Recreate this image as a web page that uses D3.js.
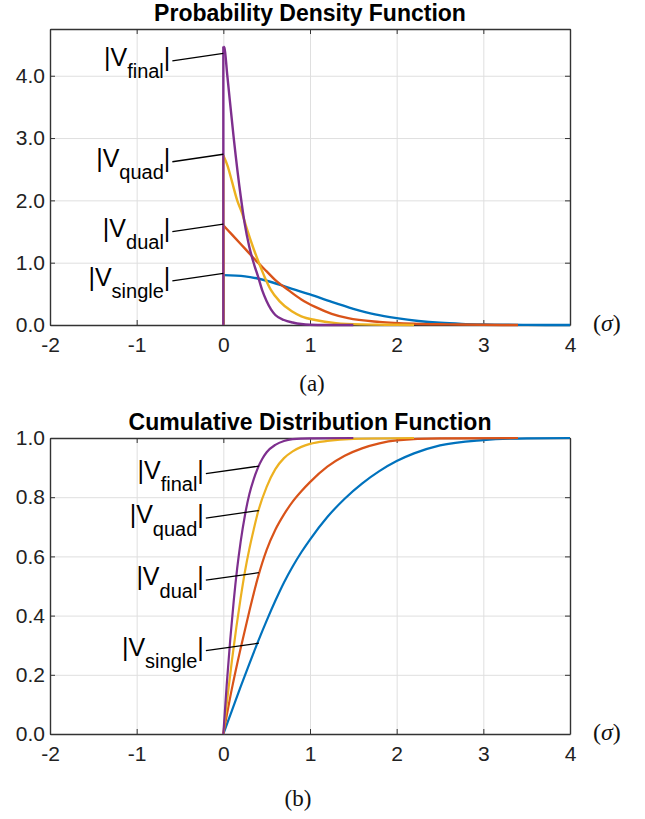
<!DOCTYPE html>
<html>
<head>
<meta charset="utf-8">
<script src="https://cdnjs.cloudflare.com/ajax/libs/d3/7.8.5/d3.min.js"></script>
<style>
body { margin: 0; background: #fff; }
svg text { font-family: "Liberation Sans", Arial, Helvetica, sans-serif; }
</style>
</head>
<body>
<svg id="mainsvg" width="645" height="819"></svg>
<script>
// tick values
var xTicks = [-2, -1, 0, 1, 2, 3, 4];
var pdfTicks = [0, 1, 2, 3, 4];
var cdfTicks = [0, 0.2, 0.4, 0.6, 0.8, 1.0];

var seriesNames = ['single', 'dual', 'quad', 'final'];
var seriesColors = ['#0072BD', '#D95319', '#EDB120', '#7E2F8E'];

// PDF curves  [x in sigma, density]
var pdfSingle = [[0,0.8],[0.25,0.78],[0.5,0.71],[0.75,0.6],[1.0,0.49],[1.25,0.37],[1.5,0.26],[1.75,0.17],[2.0,0.11],[2.25,0.065],[2.5,0.035],[2.75,0.018],[3.0,0.009],[3.5,0.002],[4.0,0]];
var pdfDual = [[0,1.6],[0.1,1.45],[0.2,1.3],[0.3,1.15],[0.4,1.0],[0.5,0.86],[0.6,0.72],[0.75,0.56],[0.9,0.41],[1.06,0.29],[1.25,0.18],[1.44,0.11],[1.8,0.05],[2.2,0.02],[2.6,0.01],[3.0,0.003],[3.4,0]];
var pdfQuad = [[0,2.72],[0.05,2.55],[0.1,2.3],[0.16,2.0],[0.22,1.78],[0.27,1.55],[0.35,1.22],[0.41,1.0],[0.48,0.76],[0.55,0.56],[0.65,0.38],[0.79,0.22],[0.9,0.14],[1.06,0.08],[1.3,0.03],[1.6,0.01],[2.0,0.003],[2.2,0]];
var pdfFinal = [[0,4.47],[0.012,4.45],[0.046,4.0],[0.12,3.0],[0.2,2.07],[0.246,1.63],[0.3,1.25],[0.36,0.95],[0.4,0.78],[0.45,0.55],[0.5,0.38],[0.55,0.25],[0.6,0.16],[0.7,0.08],[0.8,0.04],[0.9,0.015],[1.0,0.005],[1.2,0.001],[1.5,0]];

// CDF curves
var cdfSingle = [[0,0],[0.1,0.08],[0.2,0.16],[0.3,0.237],[0.4,0.312],[0.5,0.383],[0.6,0.45],[0.7,0.512],[0.8,0.566],[0.9,0.614],[1.0,0.657],[1.2,0.733],[1.4,0.795],[1.6,0.846],[1.8,0.888],[2.0,0.922],[2.2,0.948],[2.5,0.975],[3.0,0.993],[3.5,0.999],[4.0,1.0]];
var cdfDual = [[0,0],[0.1,0.155],[0.2,0.29],[0.3,0.415],[0.4,0.53],[0.5,0.622],[0.6,0.69],[0.7,0.742],[0.8,0.785],[0.9,0.82],[1.0,0.851],[1.2,0.903],[1.4,0.94],[1.6,0.965],[1.8,0.982],[2.0,0.992],[2.5,0.999],[3.4,1.0]];
var cdfQuad = [[0,0],[0.05,0.13],[0.1,0.25],[0.15,0.36],[0.2,0.46],[0.25,0.55],[0.3,0.625],[0.35,0.69],[0.4,0.75],[0.5,0.835],[0.6,0.895],[0.7,0.932],[0.8,0.955],[0.9,0.97],[1.0,0.98],[1.2,0.99],[1.5,0.997],[2.2,1.0]];
var cdfFinal = [[0,0],[0.04,0.17],[0.08,0.32],[0.12,0.45],[0.16,0.56],[0.2,0.65],[0.25,0.74],[0.3,0.81],[0.35,0.86],[0.4,0.9],[0.45,0.93],[0.5,0.952],[0.6,0.977],[0.7,0.99],[0.8,0.996],[1.0,0.999],[1.5,1.0]];

// where the label leaders touch the curves
var pdfLabelX = [0, 0, 0, 0];
var pdfLabelY = [0.83, 1.62, 2.74, 4.36];
var cdfLabelX = [0.41, 0.41, 0.41, 0.41];
var cdfLabelY = [0.307, 0.545, 0.755, 0.905];

var svg = d3.select('#mainsvg');
var left = 50, right = 570;

function Panel(o) {
	this.o = o;
	this.g = svg.append('g');
	this.x = d3.scaleLinear().domain([-2, 4]).range([left, right]);
	this.y = d3.scaleLinear().domain([0, o.yMax]).range([o.bottom, o.top]);
}

Panel.prototype.Render = function() {
	var o = this.o, g = this.g, x = this.x, y = this.y;
	var h = o.bottom - o.top, w = right - left;

	// grid
	g.append('g').attr('transform', 'translate(0,' + o.bottom + ')')
		.call(d3.axisBottom(x).tickValues(xTicks).tickSize(-h).tickFormat(''))
		.call(function(s) { s.select('.domain').remove(); s.selectAll('line').attr('stroke', '#dfdfdf').attr('stroke-width', 1); });
	g.append('g').attr('transform', 'translate(' + left + ',0)')
		.call(d3.axisLeft(y).tickValues(o.yTicks).tickSize(-w).tickFormat(''))
		.call(function(s) { s.select('.domain').remove(); s.selectAll('line').attr('stroke', '#dfdfdf').attr('stroke-width', 1); });

	// box + inward ticks
	var axes = [
		{gen: d3.axisBottom(x).tickValues(xTicks).tickFormat(function(d) { return String(d); }).tickPadding(12), t: 'translate(0,' + o.bottom + ')'},
		{gen: d3.axisLeft(y).tickValues(o.yTicks).tickFormat(d3.format(o.yFmt)).tickPadding(5), t: 'translate(' + left + ',0)'},
		{gen: d3.axisTop(x).tickValues(xTicks).tickFormat(''), t: 'translate(0,' + o.top + ')'},
		{gen: d3.axisRight(y).tickValues(o.yTicks).tickFormat(''), t: 'translate(' + right + ',0)'}
	];
	axes.forEach(function(a) {
		g.append('g').attr('transform', a.t)
			.call(a.gen.tickSize(-5).tickSizeOuter(0))
			.attr('font-size', 21)
			.attr('font-family', '"Liberation Sans", Arial, sans-serif')
			.style('color', '#333')
			.call(function(s) {
				s.select('.domain').attr('stroke-width', 1.4);
				s.selectAll('text').attr('fill', '#222');
			});
	});

	// curves
	var line = d3.line()
		.x(function(d) { return x(d[0]); })
		.y(function(d) { return y(d[1]); })
		.curve(d3.curveMonotoneX);
	o.series.forEach(function(s, i) {
		if (o.drop) {
			g.append('line')
				.attr('x1', x(0)).attr('x2', x(0))
				.attr('y1', y(0)).attr('y2', y(s[0][1]))
				.attr('stroke', seriesColors[i]).attr('stroke-width', o.lineWidth);
		}
		g.append('path')
			.attr('d', line(s))
			.attr('fill', 'none')
			.attr('stroke', seriesColors[i])
			.attr('stroke-width', o.lineWidth)
			.attr('stroke-linejoin', 'round');
	});

	// labels with leader lines
	seriesNames.forEach(function(name, i) {
		var ex = x(o.labelX[i]), ey = y(o.labelY[i]);
		var sx = ex - o.leadLen, sy = ey + 7.5;
		g.append('line')
			.attr('x1', sx).attr('y1', sy).attr('x2', ex).attr('y2', ey)
			.attr('stroke', '#000').attr('stroke-width', 1.3);
		var t = g.append('text')
			.attr('x', sx - 2).attr('y', ey + 12.5)
			.attr('text-anchor', 'end')
			.attr('font-size', 25)
			.attr('fill', '#000');
		t.append('tspan').text('|V');
		t.append('tspan').attr('font-size', 20).attr('dy', 12.5).text(name);
		t.append('tspan').attr('dy', -12.5).text('|');
	});

	// title
	g.append('text')
		.attr('x', (left + right) / 2).attr('y', o.titleY)
		.attr('text-anchor', 'middle')
		.attr('font-size', 23).attr('font-weight', 'bold')
		.attr('fill', '#000')
		.text(o.title);

	// unit label (sigma)
	var u = g.append('text')
		.attr('x', 593).attr('y', o.bottom + 6)
		.attr('font-size', 24)
		.style('font-family', '"Liberation Serif", "Times New Roman", serif')
		.attr('fill', '#111');
	u.append('tspan').text('(');
	u.append('tspan').attr('font-style', 'italic').text('\u03C3');
	u.append('tspan').text(')');

	// caption
	g.append('text')
		.attr('x', o.captionX).attr('y', o.captionY)
		.attr('text-anchor', 'middle')
		.attr('font-size', 23)
		.style('font-family', '"Liberation Serif", "Times New Roman", serif')
		.attr('fill', '#111')
		.text(o.caption);
};

var pdfPanel = new Panel({
	top: 29, bottom: 325, yMax: 4.75, yTicks: pdfTicks, yFmt: '.1f',
	title: 'Probability Density Function', titleY: 21,
	caption: '(a)', captionX: 312, captionY: 391,
	series: [pdfSingle, pdfDual, pdfQuad, pdfFinal], lineWidth: 2.4, drop: true,
	labelX: pdfLabelX, labelY: pdfLabelY, leadLen: 51
});
pdfPanel.Render();

var cdfPanel = new Panel({
	top: 438, bottom: 734, yMax: 1.0, yTicks: cdfTicks, yFmt: '.1f',
	title: 'Cumulative Distribution Function', titleY: 430,
	caption: '(b)', captionX: 298, captionY: 806,
	series: [cdfSingle, cdfDual, cdfQuad, cdfFinal], lineWidth: 2.2, drop: false,
	labelX: cdfLabelX, labelY: cdfLabelY, leadLen: 53
});
cdfPanel.Render();
</script>
</body>
</html>
